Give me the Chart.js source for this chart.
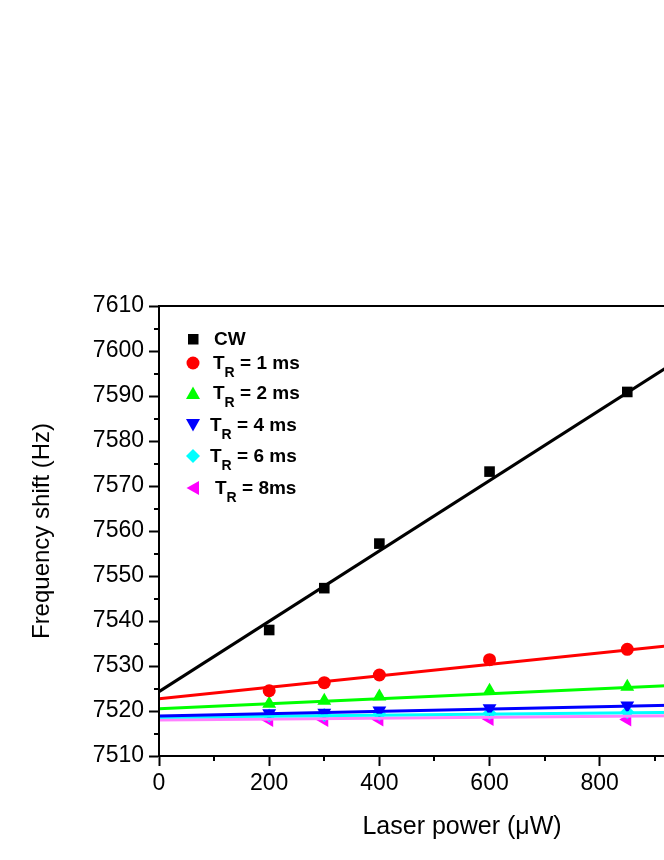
<!DOCTYPE html>
<html lang="en">
<head>
<meta charset="UTF-8">
<title>Frequency shift vs laser power</title>
<script src="https://cdn.jsdelivr.net/npm/chart.js@4.4.1/dist/chart.umd.min.js"></script>
<style>
    html, body {
        margin: 0;
        padding: 0;
        background: #fff;
        overflow: hidden;
    }
    #wrap {
        position: relative;
        width: 800px;
        height: 860px;
    }
    .legend {
        position: absolute;
        left: 0;
        top: 0;
        font-family: "Liberation Sans", Arial, sans-serif;
        font-weight: bold;
        font-size: 19px;
        color: #000;
    }
    .row {
        position: absolute;
        height: 24px;
        line-height: 24px;
        white-space: nowrap;
    }
    .row svg {
        position: absolute;
        top: 4px;
    }
    .row span.txt {
        position: absolute;
        top: 0;
    }
    .row sub {
        font-size: 14px;
        vertical-align: -8px;
        line-height: 0;
    }
</style>
</head>
<body>
<div id="wrap">
    <canvas id="chart"></canvas>
    <div class="legend" id="legend"></div>
</div>
<script>
// data
const power = [200, 300, 400, 600, 850];
const cw   = [7538.0, 7547.3, 7557.2, 7573.2, 7590.9];
const tr1  = [7524.5, 7526.3, 7528.0, 7531.4, 7533.7];
const tr2  = [7521.6, 7522.3, 7523.2, 7524.5, 7525.4];
const tr4  = [7519.5, 7519.6, 7520.1, 7520.6, 7521.2];
const tr6  = [7519.0, 7519.1, 7519.3, 7519.5, 7519.8];
const tr8  = [7518.0, 7518.0, 7518.1, 7518.2, 7518.1];

// linear fits, value at x = 0 and x = 1100
const fitX = [0, 1100];
const fitCw  = [7524.3, 7610.3];
const fitTr1 = [7522.7, 7536.7];
const fitTr2 = [7520.5, 7526.6];
const fitTr4 = [7518.9, 7521.7];
const fitTr6 = [7518.6, 7519.9];
const fitTr8 = [7518.0, 7519.1];

const yMinor = [7515, 7525, 7535, 7545, 7555, 7565, 7575, 7585, 7595, 7605];
const xMinor = [100, 300, 500, 700, 900, 1100];

const FONT = '"Liberation Sans", Arial, sans-serif';

function pts(xs, ys) {
    return xs.map((x, i) => ({x: x, y: ys[i]}));
}

function scatter(ys, color, style, radius, rot) {
    return {
        type: 'scatter',
        data: pts(power, ys),
        backgroundColor: color,
        borderColor: color,
        borderWidth: 0,
        pointStyle: style,
        pointRadius: radius,
        pointRotation: rot || 0,
        order: 2
    };
}

function fit(ys, color) {
    return {
        type: 'line',
        data: pts(fitX, ys),
        borderColor: color,
        borderWidth: 3,
        pointRadius: 0,
        fill: false,
        order: 1
    };
}

// frame + minor ticks
const framePlugin = {
    id: 'frame',
    afterDraw(chart) {
        const {ctx, chartArea: a, scales} = chart;
        ctx.save();
        ctx.strokeStyle = '#000';
        ctx.lineWidth = 2;
        ctx.strokeRect(a.left, a.top, a.right - a.left, a.bottom - a.top);
        ctx.beginPath();
        yMinor.forEach(v => {
            const py = Math.round(scales.y.getPixelForValue(v));
            ctx.moveTo(a.left, py);
            ctx.lineTo(a.left - 5, py);
        });
        xMinor.forEach(v => {
            const px = Math.round(scales.x.getPixelForValue(v));
            ctx.moveTo(px, a.bottom);
            ctx.lineTo(px, a.bottom + 5);
        });
        ctx.stroke();
        ctx.restore();
    }
};

new Chart(document.getElementById('chart'), {
    data: {
        datasets: [
            scatter(cw, '#000000', 'rect', 7.5),
            scatter(tr1, '#ff0000', 'circle', 6.5),
            scatter(tr2, '#00ff00', 'triangle', 8),
            scatter(tr4, '#0000ff', 'triangle', 8, 180),
            scatter(tr6, '#00ffff', 'rectRot', 7),
            scatter(tr8, '#ff00ff', 'triangle', 8, -90),
            fit(fitCw, '#000000'),
            fit(fitTr1, '#ff0000'),
            fit(fitTr2, '#00ff00'),
            fit(fitTr4, '#0000ff'),
            fit(fitTr6, '#00ffff'),
            fit(fitTr8, '#ff80ff')
        ]
    },
    options: {
        responsive: true,
        maintainAspectRatio: false,
        animation: false,
        layout: { padding: { top: 306, left: 0, right: 35, bottom: 0 } },
        plugins: { legend: { display: false }, tooltip: { enabled: false } },
        scales: {
            x: {
                type: 'linear',
                min: 0,
                max: 1100,
                afterFit(s) { s.height = 104; },
                ticks: {
                    stepSize: 200,
                    includeBounds: false,
                    color: '#000',
                    padding: 4,
                    maxRotation: 0,
                    font: { family: FONT, size: 23 },
                    callback: v => String(v)
                },
                grid: {
                    drawOnChartArea: false,
                    tickLength: 10,
                    tickWidth: 2,
                    tickColor: '#000'
                },
                border: { display: true, color: '#000', width: 2 },
                title: {
                    display: true,
                    text: 'Laser power (\u03bcW)',
                    color: '#000',
                    font: { family: FONT, size: 25 },
                    padding: { top: 0, bottom: 18 }
                }
            },
            y: {
                type: 'linear',
                min: 7510,
                max: 7610,
                afterFit(s) { s.width = 159; },
                ticks: {
                    stepSize: 10,
                    color: '#000',
                    padding: 5,
                    font: { family: FONT, size: 23 },
                    callback: v => String(v)
                },
                grid: {
                    drawOnChartArea: false,
                    tickLength: 10,
                    tickWidth: 2,
                    tickColor: '#000'
                },
                border: { display: true, color: '#000', width: 2 },
                title: {
                    display: true,
                    text: 'Frequency shift (Hz)',
                    color: '#000',
                    font: { family: FONT, size: 24 },
                    padding: { top: 28, bottom: 0 }
                }
            }
        }
    },
    plugins: [framePlugin]
});

// legend drawn as html on top of the plot
const legendRows = [
    { y: 339, tx: 214, label: 'CW', shape: 'square', color: '#000000' },
    { y: 363, tx: 213, label: 'T<sub>R</sub> = 1 ms', shape: 'circle', color: '#ff0000' },
    { y: 393, tx: 213, label: 'T<sub>R</sub> = 2 ms', shape: 'up', color: '#00ff00' },
    { y: 425, tx: 210, label: 'T<sub>R</sub> = 4 ms', shape: 'down', color: '#0000ff' },
    { y: 456, tx: 210, label: 'T<sub>R</sub> = 6 ms', shape: 'diamond', color: '#00ffff' },
    { y: 488, tx: 215, label: 'T<sub>R</sub> = 8ms', shape: 'left', color: '#ff00ff' }
];

function markerSvg(shape, c) {
    let s = '';
    if (shape === 'square') s = `<rect x="3" y="3" width="10.5" height="10.5" fill="${c}"/>`;
    if (shape === 'circle') s = `<circle cx="8" cy="8" r="6.5" fill="${c}"/>`;
    if (shape === 'up') s = `<polygon points="8,1.5 15,14 1,14" fill="${c}"/>`;
    if (shape === 'down') s = `<polygon points="1,2 15,2 8,14.5" fill="${c}"/>`;
    if (shape === 'diamond') s = `<polygon points="8,1 15,8 8,15 1,8" fill="${c}"/>`;
    if (shape === 'left') s = `<polygon points="1.5,8 14,1 14,15" fill="${c}"/>`;
    return `<svg width="16" height="16" style="left:185px">${s}</svg>`;
}

const legend = document.getElementById('legend');
legendRows.forEach(r => {
    const row = document.createElement('div');
    row.className = 'row';
    row.style.top = (r.y - 12) + 'px';
    row.innerHTML = markerSvg(r.shape, r.color) +
        `<span class="txt" style="left:${r.tx}px">${r.label}</span>`;
    legend.appendChild(row);
});
</script>
</body>
</html>
